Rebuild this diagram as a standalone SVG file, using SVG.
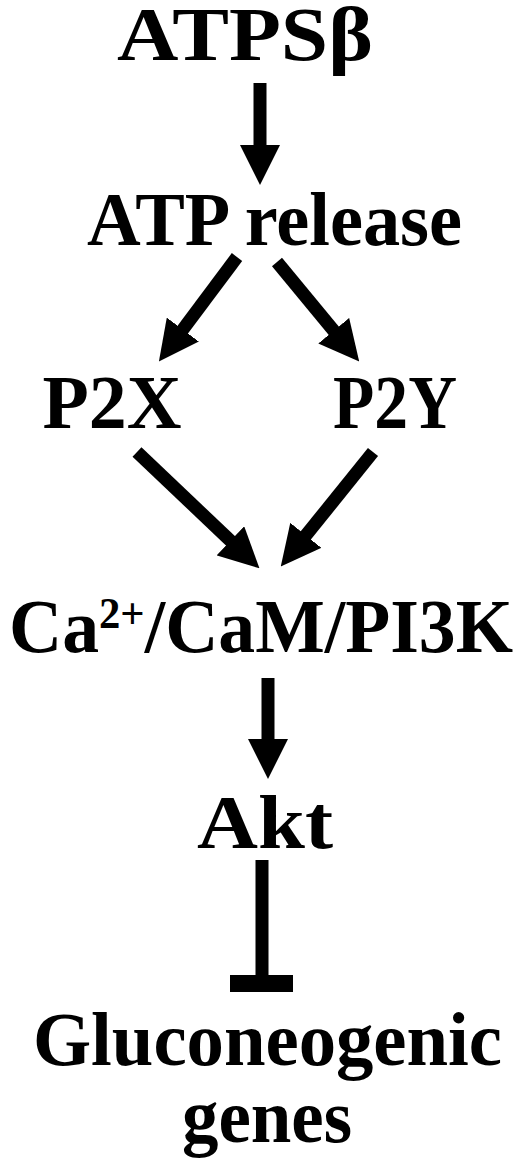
<svg xmlns="http://www.w3.org/2000/svg" width="520" height="1166" viewBox="0 0 520 1166">
<style>
.t{font-family:"Liberation Serif","Times New Roman",serif;font-weight:bold;font-size:76px;fill:#000;text-anchor:middle}
.c{stroke:#000;stroke-width:13;fill:none}
</style>
<defs>
<marker id="ah" markerUnits="userSpaceOnUse" markerWidth="40" markerHeight="40" viewBox="0 0 38 38" refX="1" refY="19" orient="auto">
<path d="M0,0 L38,19 L0,38 Z" fill="#000"/>
</marker>
</defs>
<rect width="520" height="1166" fill="#fff"/>
<g id="connectors">
<line class="c" x1="260" y1="83" x2="260" y2="146" marker-end="url(#ah)"/>
<line class="c" x1="237" y1="257" x2="182.2" y2="330.4" marker-end="url(#ah)"/>
<line class="c" x1="277" y1="262" x2="334.4" y2="331.5" marker-end="url(#ah)"/>
<line class="c" x1="137" y1="452" x2="231.2" y2="541.5" marker-end="url(#ah)"/>
<line class="c" x1="373" y1="452" x2="305.2" y2="536.2" marker-end="url(#ah)"/>
<line class="c" x1="268" y1="678" x2="268" y2="740" marker-end="url(#ah)"/>
<line class="c" x1="262" y1="860" x2="262" y2="976"/>
<rect x="230" y="975" width="63" height="17" fill="#000"/>
</g>
<g id="atpsb"><text class="t" x="245" y="60" font-size="74" textLength="256" lengthAdjust="spacingAndGlyphs">ATPSβ</text></g>
<g id="atp-release"><text class="t" x="274.5" y="245" textLength="375" lengthAdjust="spacingAndGlyphs">ATP release</text></g>
<g id="p2x"><text class="t" x="112" y="428" textLength="139" lengthAdjust="spacingAndGlyphs">P2X</text></g>
<g id="p2y"><text class="t" x="395" y="428" textLength="124" lengthAdjust="spacingAndGlyphs">P2Y</text></g>
<g id="ca-cam-pi3k"><text class="t" x="261" y="652" font-size="72" textLength="504" lengthAdjust="spacingAndGlyphs">Ca<tspan font-size="44" dy="-24">2+</tspan><tspan dy="24">/CaM/PI3K</tspan></text></g>
<g id="akt"><text class="t" x="265" y="848" textLength="136" lengthAdjust="spacingAndGlyphs">Akt</text></g>
<g id="gluconeogenic-genes">
<text class="t" x="267.5" y="1065" textLength="469" lengthAdjust="spacingAndGlyphs">Gluconeogenic</text>
<text class="t" x="267" y="1142" textLength="170" lengthAdjust="spacingAndGlyphs">genes</text>
</g>
</svg>
